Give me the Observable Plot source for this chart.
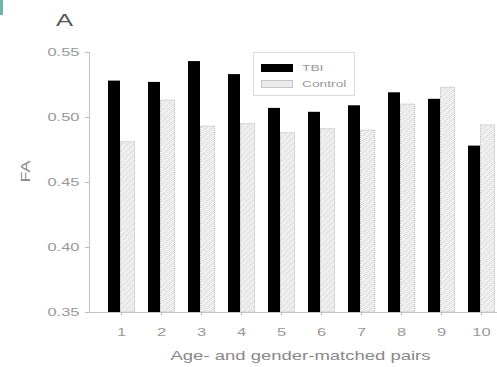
<!DOCTYPE html>
<html>
<head>
<meta charset="utf-8">
<script src="https://cdn.jsdelivr.net/npm/d3@7"></script>
<script src="https://cdn.jsdelivr.net/npm/@observablehq/plot@0.6"></script>
<style>
  html, body { margin: 0; padding: 0; background: #fff; }
  #wrap { position: relative; width: 497px; height: 367px; font-family: "Liberation Sans", Arial, sans-serif; }
  #mark { position: absolute; left: 0; top: 0; width: 3px; height: 15px; background: #6fb3ab; }
  #panel { position: absolute; left: 56px; top: 11px; font-size: 17px; color: #555; transform: scaleX(1.5); transform-origin: left top; }
  #legend { position: absolute; left: 253px; top: 52px; width: 102px; height: 44px; border: 1px solid #dcdcdc; box-sizing: border-box; font-size: 9.5px; color: #999; }
  .row { position: absolute; left: 7px; display: flex; align-items: center; }
  .sw { width: 32px; height: 8px; margin-right: 9px; box-sizing: border-box; }
  .lab { display: inline-block; transform: scaleX(1.45); transform-origin: left center; }
</style>
</head>
<body>
<div id="wrap">
  <div id="chart"></div>
  <div id="mark"></div>
  <div id="panel">A</div>
  <div id="legend">
    <div class="row" style="top:9px"><div class="sw" style="background:#000"></div><span class="lab">TBI</span></div>
    <div class="row" style="top:25px"><div class="sw" style="background:#ececec;border:1px solid #c4c4c4"></div><span class="lab">Control</span></div>
  </div>
</div>
<script>
const pairs = ["1","2","3","4","5","6","7","8","9","10"];
const tbi = [0.528, 0.527, 0.543, 0.533, 0.507, 0.504, 0.509, 0.519, 0.514, 0.478];
const control = [0.481, 0.513, 0.493, 0.495, 0.488, 0.491, 0.490, 0.510, 0.523, 0.494];
const yTicks = [0.35, 0.40, 0.45, 0.50, 0.55];
const xTitle = "Age- and gender-matched pairs";
const yTitle = "FA";

const rows = pairs.map((p, i) => ({pair: p, tbi: tbi[i], control: control[i]}));

const chart = Plot.plot({
  width: 497,
  height: 367,
  marginLeft: 89,
  marginRight: 0,
  marginTop: 52,
  marginBottom: 55,
  style: {fontFamily: "'Liberation Sans', Arial, sans-serif", background: "#fff"},
  x: {domain: pairs, range: [101, 501], padding: 0},
  y: {domain: [0.35, 0.55], range: [312, 52]},
  marks: [
    Plot.barY(rows, {x: "pair", y1: 0.35, y2: "tbi", fill: "#000", insetLeft: 7, insetRight: 21}),
    Plot.barY(rows, {x: "pair", y1: 0.35, y2: "control", fill: "url(#hatch)", stroke: "#a8a8a8", strokeWidth: 0.8, strokeDasharray: "1,1", insetLeft: 19.5, insetRight: 6.5}),
    Plot.axisY({ticks: yTicks, tickFormat: d3.format(".2f"), tickSize: 4, tickPadding: 6, fontSize: 11, color: "#999", stroke: "#bbb", label: null}),
    Plot.axisX({tickSize: 3, tickPadding: 13, fontSize: 11, color: "#999", stroke: "#bbb", label: null}),
    Plot.ruleY([0.35], {stroke: "#c4c4c4"}),
    Plot.text([yTitle], {frameAnchor: "left", dx: -63, rotate: -90, fontSize: 12, fill: "#888", y: () => 0.45}),
    Plot.text([xTitle], {frameAnchor: "bottom", y: () => 0.35, dy: 47, dx: 7, fontSize: 13.5, fill: "#888", className: "xtitle"})
  ]
});
document.getElementById("chart").appendChild(chart);

const svg = d3.select(chart);
// hatch pattern for control bars
const defs = svg.insert("defs", ":first-child");
const pat = defs.append("pattern").attr("id", "hatch").attr("patternUnits", "userSpaceOnUse")
  .attr("width", 4).attr("height", 4).attr("patternTransform", "rotate(45)");
pat.append("rect").attr("width", 4).attr("height", 4).attr("fill", "#efefef");
pat.append("line").attr("x1", 0).attr("y1", 0).attr("x2", 0).attr("y2", 4).attr("stroke", "#d4d4d4").attr("stroke-width", 1.2);
// y axis line
svg.append("line").attr("x1", 89.5).attr("x2", 89.5).attr("y1", 52).attr("y2", 312).attr("stroke", "#c4c4c4");
// the original lettering is horizontally stretched
svg.selectAll("text").each(function() {
  const isTitle = this.textContent === xTitle;
  const w = this.getComputedTextLength();
  if (w > 0) {
    this.setAttribute("textLength", isTitle ? 260 : (w * 1.5).toFixed(1));
    this.setAttribute("lengthAdjust", "spacingAndGlyphs");
  }
});
</script>
</body>
</html>
